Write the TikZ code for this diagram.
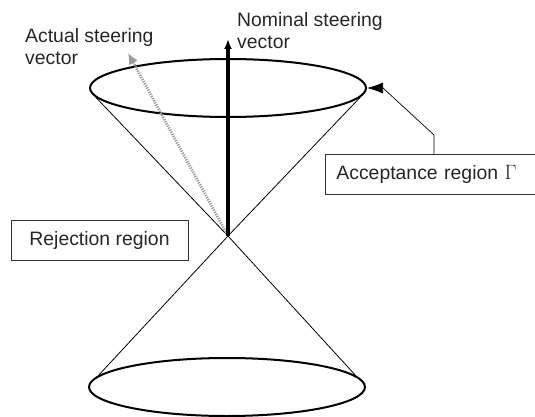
\documentclass[tikz,border=0pt]{standalone}
\usepackage{fontspec}
\setmainfont{Liberation Sans}
\usetikzlibrary{positioning,calc,shapes.geometric,arrows.meta}
\definecolor{cInk}{HTML}{000000}
\definecolor{cDot}{HTML}{9A9A9A}
\tikzset{
  ell/.style={ellipse,draw=cInk,line width=2pt,minimum width=276pt,minimum height=58pt,inner sep=0pt},
  cone/.style={draw=cInk,line width=0.8pt},
  lbl/.style={font=\fontsize{19.4}{22}\selectfont,align=left,inner sep=0pt,text=cInk!85},
  regbox/.style={draw=cInk!80,line width=0.8pt,font=\fontsize{19.4}{22}\selectfont,minimum height=40pt,text=cInk!85},
  nomvec/.style={-{Latex[length=10pt,width=8pt]},line width=3.2pt,cInk},
  actvec/.style={-{Latex[length=11pt,width=10pt]},line width=2.8pt,cDot,dash pattern=on 1.2pt off 1.2pt},
  pointer/.style={-{Latex[length=16pt,width=11pt]},line width=0.7pt,cInk},
}
\begin{document}
\begin{tikzpicture}[x=1pt,y=1pt]
  \useasboundingbox (0,0) rectangle (535,416);
  % the two cones
  \node[ell] (top) at (228,328) {};
  \node[ell] (bot) at (227,29) {};
  \coordinate (apex) at (228,180);
  \draw[cone] (top.184) -- (apex) -- (bot.5);
  \draw[cone] (top.-4) -- (apex) -- (bot.175);
  % steering vectors
  \coordinate (nomtip) at (228,377);
  \coordinate (acttip) at (128,363);
  \draw[actvec] (apex) -- (acttip);
  \draw[nomvec] (apex) -- (nomtip);
  \node[lbl,anchor=north west] (nomlbl) at (237,404) {Nominal steering\\vector};
  \node[lbl,anchor=north west] (actlbl) at (25,387.5) {Actual steering\\vector};
  % regions
  \node[regbox,anchor=north west,minimum width=212pt,text width=190pt,inner xsep=11pt,align=left] (acc) at (325,262) {Acceptance region $\Gamma$};
  \node[regbox,minimum width=177pt] (rej) at (99.5,176) {Rejection region};
  \coordinate (accfoot) at ($(acc.north west)+(109,0)$);
  \draw[pointer] (accfoot) -- ++(0,19) -- (383,328) -- (top.east);
\end{tikzpicture}
\end{document}
